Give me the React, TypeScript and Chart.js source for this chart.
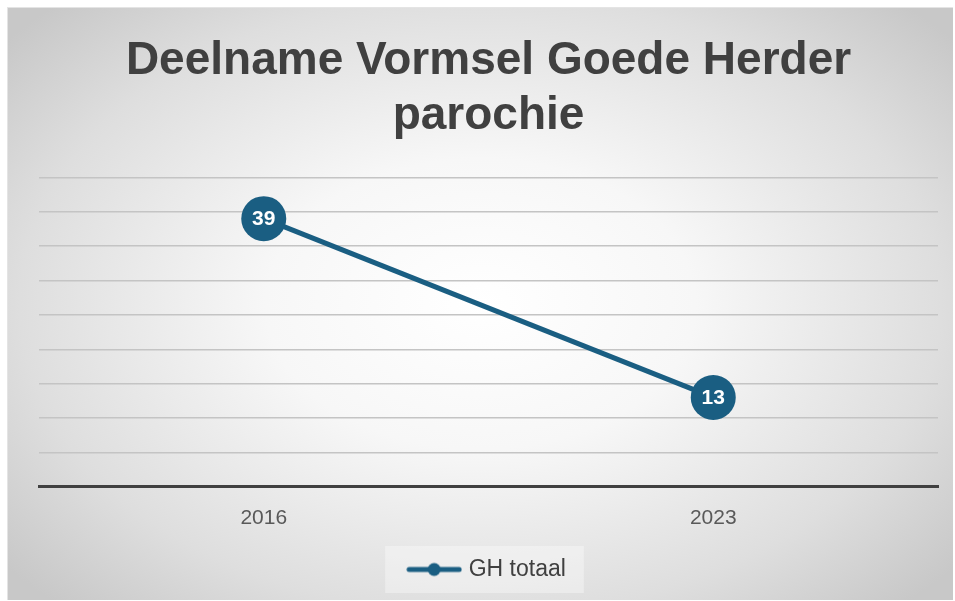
import React, { useEffect, useRef } from "react";
import { Chart, registerables } from "chart.js";

Chart.register(...registerables);

const titleLines = ["Deelname Vormsel Goede Herder", "parochie"];
const categories = ["2016", "2023"];
const seriesName = "GH totaal";
const seriesValues = [39, 13];
const yMin = 0;
const yMax = 45;
const yStep = 5;

const LINE_COLOR = "#1a5e82";
const TEXT_DARK = "#404040";
const TEXT_MID = "#595959";

function makeLegendSymbol(): HTMLCanvasElement {
  const c = document.createElement("canvas");
  c.width = 56;
  c.height = 16;
  const ctx = c.getContext("2d")!;
  ctx.strokeStyle = LINE_COLOR;
  ctx.lineWidth = 5;
  ctx.lineCap = "round";
  ctx.beginPath();
  ctx.moveTo(3, 8);
  ctx.lineTo(53, 8);
  ctx.stroke();
  ctx.fillStyle = LINE_COLOR;
  ctx.beginPath();
  ctx.arc(28, 8, 6.5, 0, Math.PI * 2);
  ctx.fill();
  return c;
}

// Draws the large marker circles and their value labels at the library-computed point positions
const markerPlugin = {
  id: "markerLabels",
  afterDatasetsDraw(chart: any) {
    const ctx = chart.ctx;
    const meta = chart.getDatasetMeta(0);
    ctx.save();
    meta.data.forEach((pt: any, i: number) => {
      ctx.fillStyle = LINE_COLOR;
      ctx.beginPath();
      ctx.arc(pt.x, pt.y, 22.5, 0, Math.PI * 2);
      ctx.fill();
      ctx.fillStyle = "#ffffff";
      ctx.font = "bold 21px 'Liberation Sans', Arial, sans-serif";
      ctx.textAlign = "center";
      ctx.textBaseline = "middle";
      ctx.fillText(String(seriesValues[i]), pt.x, pt.y + 1);
    });
    ctx.restore();
  },
};

const legendBgPlugin = {
  id: "legendBg",
  beforeDraw(chart: any) {
    const lg = chart.legend;
    if (!lg || !lg.legendHitBoxes || !lg.legendHitBoxes.length) return;
    const hb = lg.legendHitBoxes[0];
    const ctx = chart.ctx;
    ctx.save();
    ctx.fillStyle = "rgba(255,255,255,0.35)";
    ctx.fillRect(hb.left - 26, hb.top - 12, hb.width + 44, hb.height + 24);
    ctx.restore();
  },
};

export default function App() {
  const ref = useRef<HTMLCanvasElement | null>(null);

  useEffect(() => {
    if (!ref.current) return;
    const symbol = makeLegendSymbol();
    const chart = new Chart(ref.current, {
      type: "line",
      data: {
        labels: categories,
        datasets: [
          {
            label: seriesName,
            data: seriesValues,
            borderColor: LINE_COLOR,
            backgroundColor: LINE_COLOR,
            borderWidth: 5,
            pointRadius: 0,
            pointHoverRadius: 0,
            tension: 0,
            clip: false as any,
          },
        ],
      },
      options: {
        animation: false,
        responsive: false,
        maintainAspectRatio: false,
        layout: { padding: { left: 31, right: 15, top: 0, bottom: 9 } },
        scales: {
          x: {
            offset: true,
            grid: { display: false },
            border: { display: true, color: "#404040", width: 3 },
            ticks: {
              color: TEXT_MID,
              font: { family: "'Liberation Sans', Arial, sans-serif", size: 21 },
              padding: 11,
            },
          },
          y: {
            min: yMin,
            max: yMax,
            ticks: { stepSize: yStep, display: false },
            border: { display: false },
            grid: { color: "#c4c4c4", lineWidth: 1.5, drawTicks: false },
          },
        },
        plugins: {
          title: {
            display: true,
            text: titleLines,
            color: TEXT_DARK,
            font: { family: "'Liberation Sans', Arial, sans-serif", size: 46, weight: "bold", lineHeight: 1.2 },
            padding: { top: 26, bottom: 33 },
          },
          legend: {
            display: true,
            position: "bottom",
            labels: {
              usePointStyle: true,
              pointStyleWidth: 46,
              color: TEXT_DARK,
              font: { family: "'Liberation Sans', Arial, sans-serif", size: 23 },
              padding: 16,
              generateLabels: () => [
                {
                  text: seriesName,
                  pointStyle: symbol,
                  fillStyle: LINE_COLOR,
                  strokeStyle: LINE_COLOR,
                  lineWidth: 0,
                  fontColor: TEXT_DARK,
                  datasetIndex: 0,
                  hidden: false,
                } as any,
              ],
            },
          },
          tooltip: { enabled: false },
        },
      },
      plugins: [markerPlugin, legendBgPlugin],
    });
    return () => chart.destroy();
  }, []);

  return (
    <div
      style={{
        position: "absolute",
        left: 7,
        top: 7,
        width: 946,
        height: 593,
        background:
          "radial-gradient(ellipse 65% 70% at 50% 50%, #ffffff 0%, #f7f7f7 35%, #dedede 75%, #c8c8c8 100%)",
        borderTop: "1px solid #e4e4e4",
        borderLeft: "1px solid #e4e4e4",
        boxSizing: "border-box",
      }}
    >
      <canvas ref={ref} width={945} height={592} style={{ display: "block" }} />
    </div>
  );
}
